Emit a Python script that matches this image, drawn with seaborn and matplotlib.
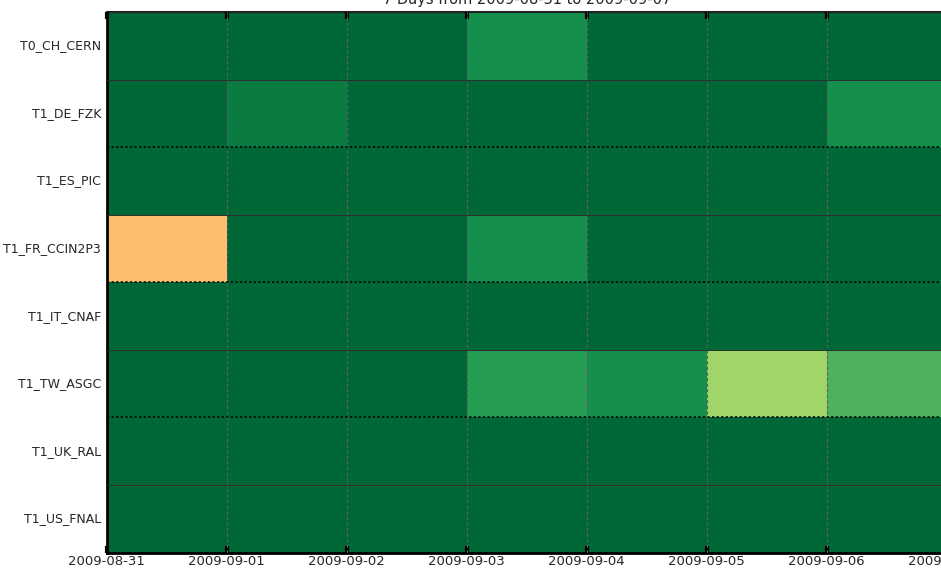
import numpy as np
import pandas as pd
import matplotlib
matplotlib.use("Agg")
import matplotlib.pyplot as plt
import seaborn as sns

# sites (rows, top to bottom) and days (columns)
sites = ["T0_CH_CERN", "T1_DE_FZK", "T1_ES_PIC", "T1_FR_CCIN2P3",
         "T1_IT_CNAF", "T1_TW_ASGC", "T1_UK_RAL", "T1_US_FNAL"]
days = ["2009-08-31", "2009-09-01", "2009-09-02", "2009-09-03",
        "2009-09-04", "2009-09-05", "2009-09-06"]
tick_dates = days + ["2009-09-07"]

# quality per site and day (%)
cern = [100, 100, 100, 91.7, 100, 100, 100]
fzk = [100, 95.8, 100, 100, 100, 100, 91.7]
pic = [100, 100, 100, 100, 100, 100, 100]
ccin2p3 = [33.4, 100, 100, 91.7, 100, 100, 100]
cnaf = [100, 100, 100, 100, 100, 100, 100]
asgc = [100, 100, 100, 88.5, 91.7, 71.0, 83.0]
ral = [100, 100, 100, 100, 100, 100, 100]
fnal = [100, 100, 100, 100, 100, 100, 100]

df = pd.DataFrame([cern, fzk, pic, ccin2p3, cnaf, asgc, ral, fnal],
                  index=sites, columns=days)

sns.set_style("white")
plt.rcParams["font.family"] = ["DejaVu Sans"]

fig = plt.figure(figsize=(9.41, 5.69), dpi=100)
ax = fig.add_axes([0.1134, 0.0287, 0.8927, 0.9503])

sns.heatmap(df, ax=ax, cmap="RdYlGn", vmin=0, vmax=100, cbar=False,
            linewidths=0)
ax.set_axisbelow(False)

# grid lines
for x in range(1, len(days)):
    ax.axvline(x, color="#5e5e5e", ls=(0, (3, 2)), lw=0.8, zorder=3)
for y in range(1, len(sites)):
    if y % 2 == 0:
        ax.axhline(y, color="black", ls=(0, (1.5, 1.5)), lw=1.1, zorder=3)
    else:
        ax.axhline(y, color="#2e2e2e", lw=0.7, zorder=3)

ax.set_xticks(np.arange(len(tick_dates)))
ax.set_xticklabels(tick_dates, rotation=0, fontsize=9.5)
ax.set_yticks(np.arange(len(sites)) + 0.5)
ax.set_yticklabels(sites, rotation=0, fontsize=9)
ax.set_xlabel("")
ax.set_ylabel("")

ax.tick_params(axis="x", direction="in", length=5, width=3, color="black",
               top=True, bottom=True, pad=2)
ax.tick_params(axis="y", length=0, pad=4)

for side in ["left", "bottom"]:
    ax.spines[side].set_visible(True)
    ax.spines[side].set_color("black")
    ax.spines[side].set_linewidth(2)
ax.spines["top"].set_visible(True)
ax.spines["top"].set_color("#222222")
ax.spines["top"].set_linewidth(1.5)
ax.spines["right"].set_visible(False)

ax.set_title("7 Days from 2009-08-31 to 2009-09-07", fontsize=10.5, pad=6)

fig.savefig("out.png", dpi=100)
